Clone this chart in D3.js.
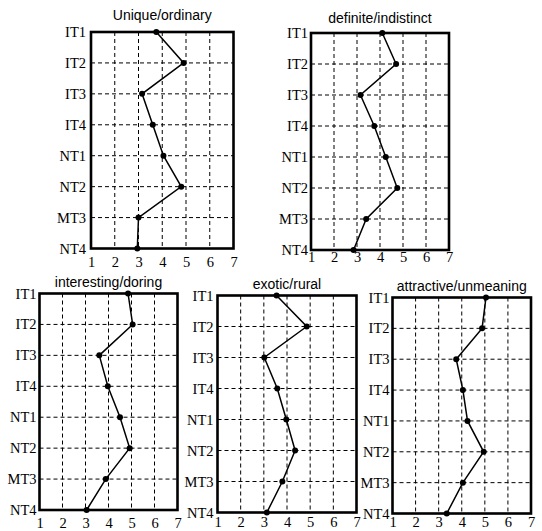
<!DOCTYPE html>
<html><head><meta charset="utf-8">
<script src="https://cdn.jsdelivr.net/npm/d3@7"></script>
<style>
html,body{margin:0;padding:0;background:#fff;}
svg{display:block;}
</style></head>
<body>
<script>
// ---- data ----
const categories = ["IT1","IT2","IT3","IT4","NT1","NT2","MT3","NT4"];
const xTicks = [1,2,3,4,5,6,7];
const titles = ["Unique/ordinary","definite/indistinct","interesting/doring","exotic/rural","attractive/unmeaning"];
const uniqueOrdinary      = [3.75, 4.9, 3.15, 3.6, 4.05, 4.8, 3.0, 2.95];
const definiteIndistinct  = [4.1, 4.7, 3.15, 3.75, 4.25, 4.75, 3.4, 2.85];
const interestingDoring   = [4.85, 5.05, 3.6, 3.97, 4.5, 4.92, 3.88, 3.05];
const exoticRural         = [3.55, 4.85, 3.02, 3.58, 3.97, 4.35, 3.8, 3.13];
const attractiveUnmeaning = [5.05, 4.88, 3.76, 4.05, 4.25, 4.95, 4.05, 3.35];
const series = [uniqueOrdinary, definiteIndistinct, interestingDoring, exoticRural, attractiveUnmeaning];

// ---- layout ----
const panels = [
  {l:91,   r:233.5, t:32,    b:248.5, titleY:20,   tickY:267, gap:5},
  {l:311,  r:449,   t:33,    b:250,   titleY:23,   tickY:262, gap:3},
  {l:39.5, r:177.5, t:293.5, b:510,   titleY:287,  tickY:528, gap:3},
  {l:217.5,r:356.5, t:295.5, b:512.5, titleY:288.5,tickY:527, gap:4},
  {l:392.5,r:531,   t:297.5, b:513.5, titleY:290.5,tickY:527, gap:3}
];

const svg = d3.select("body").append("svg").attr("width",542).attr("height",531);

panels.forEach((p,i)=>{
  const x = d3.scaleLinear().domain([1,7]).range([p.l,p.r]);
  const y = d3.scalePoint().domain(categories).range([p.t,p.b]);
  const g = svg.append("g");

  // vertical gridlines
  g.selectAll("line.vg").data(xTicks.slice(1,-1)).join("line")
    .attr("x1",d=>x(d)).attr("x2",d=>x(d)).attr("y1",p.t).attr("y2",p.b)
    .attr("stroke","#000").attr("stroke-width",1).attr("stroke-dasharray","4,3");
  // horizontal gridlines
  g.selectAll("line.hg").data(categories.slice(1,-1)).join("line")
    .attr("x1",p.l).attr("x2",p.r).attr("y1",d=>y(d)).attr("y2",d=>y(d))
    .attr("stroke","#000").attr("stroke-width",1).attr("stroke-dasharray","4,3");

  // frame
  g.append("rect").attr("x",p.l).attr("y",p.t).attr("width",p.r-p.l).attr("height",p.b-p.t)
    .attr("fill","none").attr("stroke","#000").attr("stroke-width",2.6);

  const vals = series[i];
  const pts = categories.map((c,k)=>({c, v:vals[k]}));
  g.append("path").datum(pts)
    .attr("d", d3.line().x(d=>x(d.v)).y(d=>y(d.c)))
    .attr("fill","none").attr("stroke","#000").attr("stroke-width",1.5);
  g.selectAll("circle").data(pts).join("circle")
    .attr("cx",d=>x(d.v)).attr("cy",d=>y(d.c)).attr("r",3).attr("fill","#000");

  // category labels
  g.selectAll("text.cat").data(categories).join("text")
    .attr("x",p.l-p.gap).attr("y",d=>y(d)+5)
    .attr("text-anchor","end")
    .attr("font-family","'Liberation Serif','Times New Roman',serif")
    .attr("font-size","14.5px").attr("fill","#000")
    .text(d=>d);

  // x tick labels
  const ax = d3.axisBottom(x).tickValues(xTicks).tickSize(0).tickPadding(0).tickFormat(d3.format("d"));
  const axg = g.append("g").attr("transform",`translate(0,${p.tickY})`).call(ax);
  axg.attr("font-family",null).attr("font-size",null);
  axg.select(".domain").remove();
  axg.selectAll("text")
    .attr("font-family","'Liberation Serif','Times New Roman',serif")
    .attr("font-size","14.5px").attr("fill","#000").attr("dy",0).attr("y",0);

  // title
  g.append("text").attr("x",(p.l+p.r)/2).attr("y",p.titleY)
    .attr("text-anchor","middle")
    .attr("font-family","'Liberation Sans',Arial,sans-serif")
    .attr("font-size","14px").attr("fill","#000")
    .text(titles[i]);
});
</script>
</body></html>
